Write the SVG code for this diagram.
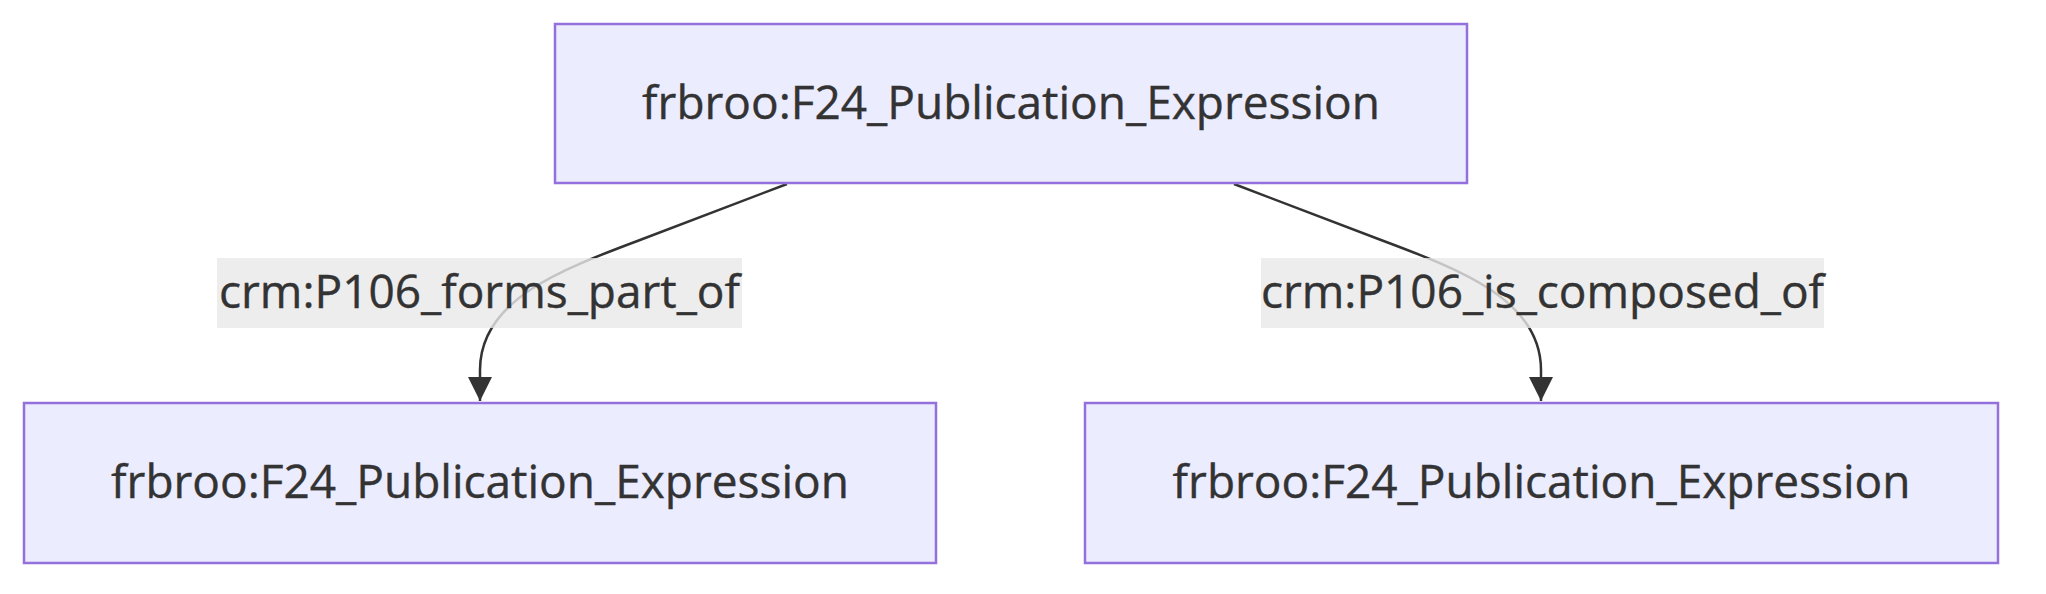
<svg xmlns="http://www.w3.org/2000/svg" width="2046" height="594" viewBox="0 0 2046 594">
<style>
.node rect{fill:#ECECFF;stroke:#9370DB;stroke-width:2.5}
.node text,.label text{font-family:"Open Sans","Liberation Sans",sans-serif;font-size:46px;fill:#333333;text-anchor:middle;stroke:#333333;stroke-width:0.4}
.edge{fill:none;stroke:#333333;stroke-width:2.5}
.label rect{fill:#e8e8e8;fill-opacity:0.8}
</style>
<defs>
<marker id="arrow" viewBox="0 0 10 10" refX="10" refY="5" markerUnits="userSpaceOnUse" markerWidth="24" markerHeight="24" orient="auto">
<path d="M0,0 L10,5 L0,10 z" fill="#333333"/>
</marker>
</defs>
<rect width="2046" height="594" fill="#ffffff"/>
<g id="connectors">
<path class="edge" d="M787,184 L640,240 C560,270 480,300 480,370 L480,401" marker-end="url(#arrow)"/>
<path class="edge" d="M1234,184 L1381,240 C1461,270 1541,300 1541,370 L1541,401" marker-end="url(#arrow)"/>
</g>
<g id="label-forms" class="label">
<rect x="217" y="258" width="525" height="70"/>
<text x="479.5" y="308">crm:P106_forms_part_of</text>
</g>
<g id="label-composed" class="label">
<rect x="1261" y="258" width="563" height="70"/>
<text x="1542.5" y="308">crm:P106_is_composed_of</text>
</g>
<g id="node-top" class="node">
<rect x="555" y="24" width="912" height="159"/>
<text x="1011" y="119">frbroo:F24_Publication_Expression</text>
</g>
<g id="node-left" class="node">
<rect x="24" y="403" width="912" height="160"/>
<text x="480" y="498">frbroo:F24_Publication_Expression</text>
</g>
<g id="node-right" class="node">
<rect x="1085" y="403" width="913" height="160"/>
<text x="1541.5" y="498">frbroo:F24_Publication_Expression</text>
</g>
</svg>
